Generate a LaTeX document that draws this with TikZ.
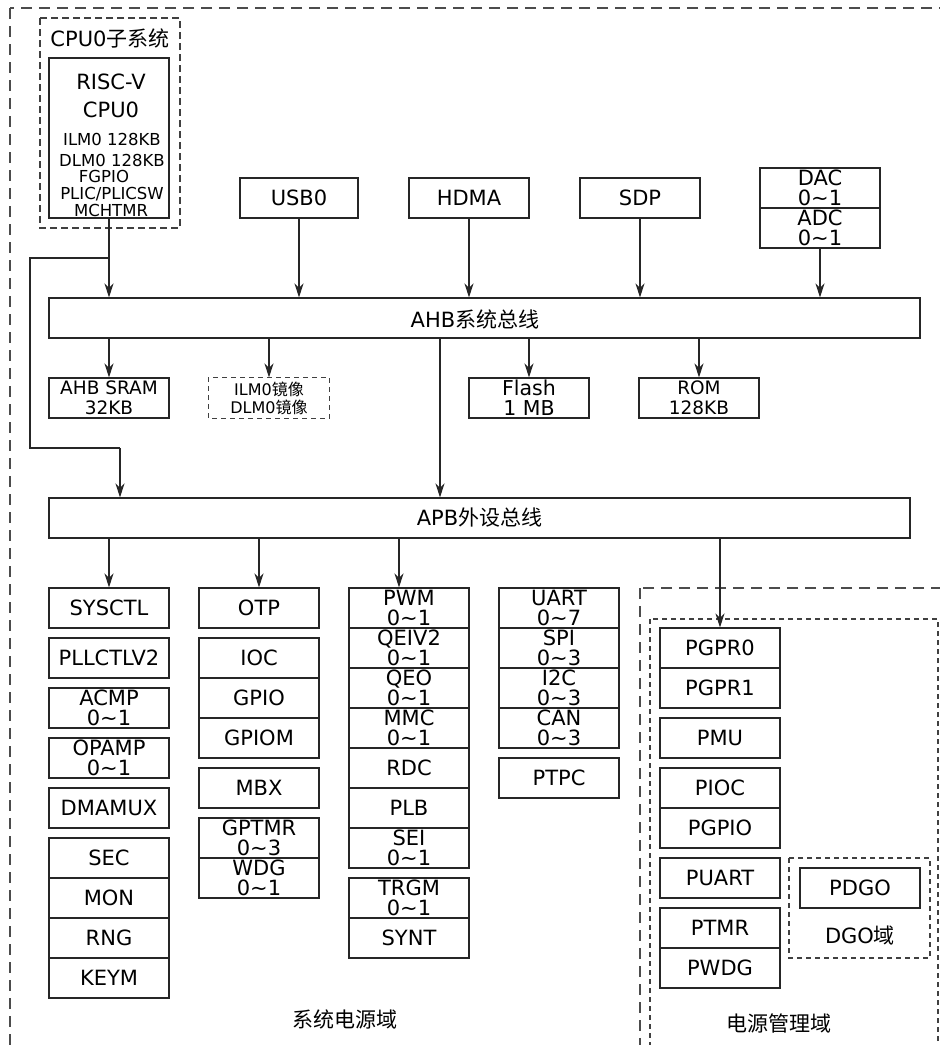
\documentclass[tikz,border=0pt]{standalone}
\usepackage{fontspec}
\setmainfont{DejaVu Sans}
\newfontfamily\cjk{Noto Sans CJK SC}
\usetikzlibrary{arrows.meta}
\newcommand{\mytilde}{\textasciitilde}
\newcommand{\fsz}[1]{\fontsize{#1}{20}\selectfont}
\begin{document}
\begin{tikzpicture}[x=1pt,y=-1pt,
  line width=1.1pt,
  box/.style={draw=black!85, minimum width=120, minimum height=40, inner sep=0, align=center, font=\fsz{21}},
  bus/.style={draw=black!85, minimum height=40, inner sep=0, font=\fsz{21}},
  arr/.style={draw=black!85, -{Stealth[length=14pt,width=9pt,inset=4.5pt]}},
  wire/.style={draw=black!85},
  bigdash/.style={draw=black!70, dash pattern=on 11pt off 7pt},
  middash/.style={draw=black!75, dash pattern=on 7pt off 4pt},
  smalldash/.style={draw=black!75, dash pattern=on 5pt off 4pt},
  txt/.style={inner sep=0, font=\fsz{21}},
  bigl/.style={txt, text height=15pt, text depth=0pt},
  smalll/.style={inner sep=0, font=\fsz{16.5}, text height=12pt, text depth=0pt},
]
\useasboundingbox (0,0) rectangle (940,1045);
\fill[white] (0,0) rectangle (940,1045);

% dashed domains
\begin{scope}
\clip (0,0) rectangle (940,1045);
\draw[bigdash] (10,8) rectangle (990,1100);
\draw[bigdash] (640,588) rectangle (990,1100);
\draw[smalldash] (650,619) rectangle (938,1100);
\end{scope}
\draw[middash] (40,18) rectangle (180,228);
\draw[smalldash] (789,858) rectangle (930,958);

% CPU0 subsystem
\node[txt] (cputitle) at (110,38) {CPU0{\cjk 子系统}};
\node[box, minimum height=160] (cpu) at (109,138) {};
\node[bigl] (c1) at (111,82) {RISC-V};
\node[bigl] (c2) at (111,110) {CPU0};
\node[smalll] (c3) at (112,139) {ILM0 128KB};
\node[smalll] (c4) at (112,160) {DLM0 128KB};
\node[smalll] (c5) at (104,176) {FGPIO};
\node[smalll] (c6) at (112,193) {PLIC/PLICSW};
\node[smalll] (c7) at (111,210) {MCHTMR};

% top masters
\node[box, minimum width=118] (usb) at (299,198) {USB0};
\node[box] (hdma) at (469,198) {HDMA};
\node[box] (sdp) at (640,198) {SDP};
\node[box] (dac) at (820,188) {DAC\\0\mytilde1};
\node[box] (adc) at (820,228) {ADC\\0\mytilde1};

% AHB bus
\node[bus, minimum width=871] (ahb) at (484.5,318) {};
\node[txt] (ahbt) at (475,319) {AHB{\cjk 系统总线}};

% AHB slaves
\node[box, font=\fsz{18.5}] (sram) at (109,398) {AHB SRAM\\32KB};
\node[box, draw=none, font=\fsz{16}, execute at begin node={\baselineskip=18pt}] (ilm) at (269,398) {ILM0{\cjk 镜像}\\DLM0{\cjk 镜像}};
\draw[smalldash] (ilm.north west) rectangle (ilm.south east);
\node[box, font=\fsz{20.5}] (flash) at (529,398) {Flash\\1 MB};
\node[box, font=\fsz{18.5}] (rom) at (699,398) {ROM\\128KB};

% APB bus
\node[bus, minimum width=861] (apb) at (479.5,518) {APB{\cjk 外设总线}};

% column 1
\node[box] (sysctl) at (109,608) {SYSCTL};
\node[box] (pll) at (109,658) {PLLCTLV2};
\node[box] (acmp) at (109,708) {ACMP\\0\mytilde1};
\node[box] (opamp) at (109,758) {OPAMP\\0\mytilde1};
\node[box] (dmamux) at (109,808) {DMAMUX};
\node[box] (sec) at (109,858) {SEC};
\node[box] (mon) at (109,898) {MON};
\node[box] (rng) at (109,938) {RNG};
\node[box] (keym) at (109,978) {KEYM};

% column 2
\node[box] (otp) at (259,608) {OTP};
\node[box] (ioc) at (259,658) {IOC};
\node[box] (gpio) at (259,698) {GPIO};
\node[box] (gpiom) at (259,738) {GPIOM};
\node[box] (mbx) at (259,788) {MBX};
\node[box] (gptmr) at (259,838) {GPTMR\\0\mytilde3};
\node[box] (wdg) at (259,878) {WDG\\0\mytilde1};

% column 3
\node[box] (pwm) at (409,608) {PWM\\0\mytilde1};
\node[box] (qeiv2) at (409,648) {QEIV2\\0\mytilde1};
\node[box] (qeo) at (409,688) {QEO\\0\mytilde1};
\node[box] (mmc) at (409,728) {MMC\\0\mytilde1};
\node[box] (rdc) at (409,768) {RDC};
\node[box] (plb) at (409,808) {PLB};
\node[box] (sei) at (409,848) {SEI\\0\mytilde1};
\node[box] (trgm) at (409,898) {TRGM\\0\mytilde1};
\node[box] (synt) at (409,938) {SYNT};

% column 4
\node[box] (uart) at (559,608) {UART\\0\mytilde7};
\node[box] (spi) at (559,648) {SPI\\0\mytilde3};
\node[box] (i2c) at (559,688) {I2C\\0\mytilde3};
\node[box] (can) at (559,728) {CAN\\0\mytilde3};
\node[box] (ptpc) at (559,778) {PTPC};

% column 5 (power management)
\node[box] (pgpr0) at (720,648) {PGPR0};
\node[box] (pgpr1) at (720,688) {PGPR1};
\node[box] (pmu) at (720,738) {PMU};
\node[box] (pioc) at (720,788) {PIOC};
\node[box] (pgpio) at (720,828) {PGPIO};
\node[box] (puart) at (720,878) {PUART};
\node[box] (ptmr) at (720,928) {PTMR};
\node[box] (pwdg) at (720,968) {PWDG};
\node[box] (pdgo) at (860,888) {PDGO};

% domain labels
\node[txt] (dgol) at (860,936) {DGO{\cjk 域}};
\node[txt, font=\fsz{21}\cjk] (sysdom) at (345,1019) {系统电源域};
\node[txt, font=\fsz{21}\cjk] (pwrdom) at (779,1023) {电源管理域};

% connectors: masters to AHB
\draw[arr] (cpu.south) -- (cpu.south |- ahb.north);
\draw[arr] (usb.south) -- (usb.south |- ahb.north);
\draw[arr] (hdma.south) -- (hdma.south |- ahb.north);
\draw[arr] (sdp.south) -- (sdp.south |- ahb.north);
\draw[arr] (adc.south) -- (adc.south |- ahb.north);

% CPU branch to APB
\coordinate (j1) at (109,258);
\coordinate (j2) at (30,258);
\coordinate (j3) at (30,448);
\coordinate (j4) at (120,448);
\draw[wire] (j1) -- (j2) -- (j3) -- (j4);
\draw[arr] (j4) -- (j4 |- apb.north);

% AHB to slaves
\draw[arr] (sram.north |- ahb.south) -- (sram.north);
\draw[arr] (ilm.north |- ahb.south) -- (ilm.north);
\draw[arr] (flash.north |- ahb.south) -- (flash.north);
\draw[arr] (rom.north |- ahb.south) -- (rom.north);
\coordinate (x440) at (440,0);
\draw[arr] (x440 |- ahb.south) -- (x440 |- apb.north);

% APB to peripherals
\draw[arr] (sysctl.north |- apb.south) -- (sysctl.north);
\draw[arr] (otp.north |- apb.south) -- (otp.north);
\draw[arr] ([xshift=-10pt]pwm.north |- apb.south) -- ([xshift=-10pt]pwm.north);
\draw[arr] (pgpr0.north |- apb.south) -- (pgpr0.north);
\end{tikzpicture}
\end{document}
